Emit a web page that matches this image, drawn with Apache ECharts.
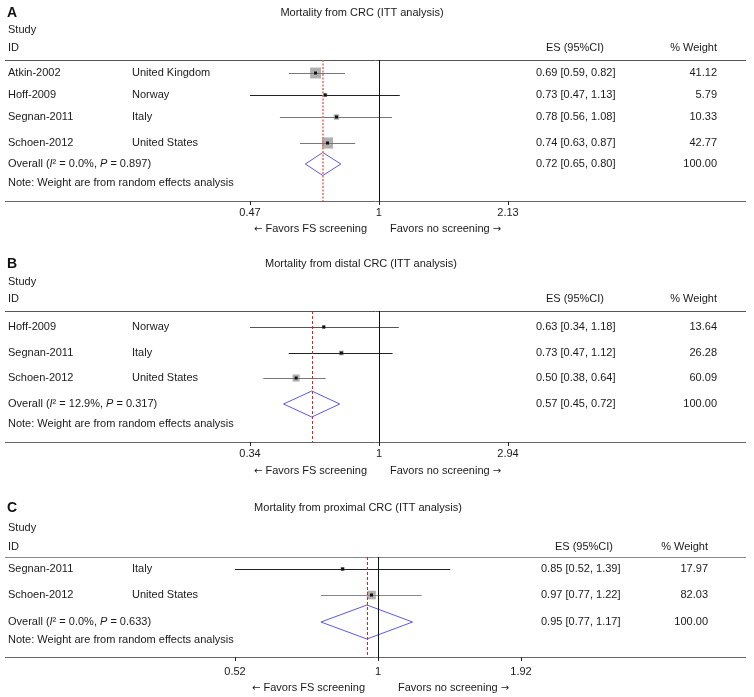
<!DOCTYPE html>
<html>
<head>
<meta charset="utf-8">
<script src="https://cdn.jsdelivr.net/npm/echarts@6/dist/echarts.min.js"></script>
<style>html,body{margin:0;padding:0;background:#fff}#c{width:754px;height:697px}</style>
</head>
<body>
<div id="c"></div>
<script>
// ---------- DATA ----------
// Panel A: Mortality from CRC
const titleA = 'Mortality from CRC (ITT analysis)';
const studiesA = ['Atkin-2002', 'Hoff-2009', 'Segnan-2011', 'Schoen-2012'];
const countriesA = ['United Kingdom', 'Norway', 'Italy', 'United States'];
const esA = [0.69, 0.73, 0.78, 0.74];
const loA = [0.59, 0.47, 0.56, 0.63];
const hiA = [0.82, 1.13, 1.08, 0.87];
const weightA = [41.12, 5.79, 10.33, 42.77];
const pooledA = [0.72, 0.65, 0.80];
const hetA = ['0.0%', '0.897'];
const ticksA = [0.47, 1, 2.13];
const tickLabelsA = ['0.47', '1', '2.13'];

// Panel B: Mortality from distal CRC
const titleB = 'Mortality from distal CRC (ITT analysis)';
const studiesB = ['Hoff-2009', 'Segnan-2011', 'Schoen-2012'];
const countriesB = ['Norway', 'Italy', 'United States'];
const esB = [0.63, 0.73, 0.50];
const loB = [0.34, 0.47, 0.38];
const hiB = [1.18, 1.12, 0.64];
const weightB = [13.64, 26.28, 60.09];
const pooledB = [0.57, 0.45, 0.72];
const hetB = ['12.9%', '0.317'];
const ticksB = [0.34, 1, 2.94];
const tickLabelsB = ['0.34', '1', '2.94'];

// Panel C: Mortality from proximal CRC
const titleC = 'Mortality from proximal CRC (ITT analysis)';
const studiesC = ['Segnan-2011', 'Schoen-2012'];
const countriesC = ['Italy', 'United States'];
const esC = [0.85, 0.97];
const loC = [0.52, 0.77];
const hiC = [1.39, 1.22];
const weightC = [17.97, 82.03];
const pooledC = [0.95, 0.77, 1.17];
const hetC = ['0.0%', '0.633'];
const ticksC = [0.52, 1, 1.92];
const tickLabelsC = ['0.52', '1', '1.92'];

// ---------- LAYOUT / STYLE ----------
const layouts = [
  {tag:'A', top:60, bottom:201, left:250, right:508, head:13, study:30, id:48, rows:[73,95,117,143], overall:164, note:183, favors:229, favL:367, favR:390, labelMargin:6, esX:536, wX:717, esHeadX:575, titleX:362, diamondH:11.5, boxK:1.7, ciColors:['#777','#222','#777','#777'], refColor:'#e46a6a', refWidth:1.5, refDash:[2,1.5], ruleTop:'#555'},
  {tag:'B', top:311, bottom:442, left:250, right:508, head:264, study:282, id:299, rows:[327,353,378], overall:404, note:424, favors:471, favL:367, favR:390, labelMargin:6, esX:536, wX:717, esHeadX:575, titleX:361, diamondH:13, boxK:0.92, ciColors:['#555','#222','#777'], refColor:'#dd2222', refWidth:1, refDash:[3,2], ruleTop:'#555'},
  {tag:'C', top:557, bottom:657, left:235, right:521, head:508, study:528, id:547, rows:[569,595], overall:622, note:640, favors:688, favL:365, favR:398, labelMargin:9, esX:541, wX:708, esHeadX:584, titleX:358, diamondH:17, boxK:0.95, ciColors:['#222','#888'], refColor:'#dd2222', refWidth:1, refDash:[3,2], ruleTop:'#888'}
];

const panels = [
  {title:titleA, studies:studiesA, countries:countriesA, es:esA, lo:loA, hi:hiA, w:weightA, pooled:pooledA, het:hetA, ticks:ticksA, tickLabels:tickLabelsA},
  {title:titleB, studies:studiesB, countries:countriesB, es:esB, lo:loB, hi:hiB, w:weightB, pooled:pooledB, het:hetB, ticks:ticksB, tickLabels:tickLabelsB},
  {title:titleC, studies:studiesC, countries:countriesC, es:esC, lo:loC, hi:hiC, w:weightC, pooled:pooledC, het:hetC, ticks:ticksC, tickLabels:tickLabelsC}
];

const FONT = '"Liberation Sans", Arial, sans-serif';
const FS = 11;
const INK = '#1a1a1a';
const fmt = v => v.toFixed(2);

const grids = [], xAxes = [], yAxes = [], series = [], graphics = [];

function txt(x, y, text, align, extra) {
  graphics.push({
    type: 'text', x: x, y: y, silent: true,
    style: Object.assign({text: text, fill: INK, font: FS + 'px ' + FONT, align: align || 'left', verticalAlign: 'middle'}, extra || {})
  });
}
function rule(x1, x2, y, color) {
  graphics.push({type:'line', silent:true, shape:{x1:x1, y1:y + 0.5, x2:x2, y2:y + 0.5}, style:{stroke:color, lineWidth:1}});
}
const arrowRich = {ar: {fontFamily: '"DejaVu Sans", sans-serif', fontSize: 10, fill: INK}};

panels.forEach((p, i) => {
  const L = layouts[i];
  const H = L.bottom - L.top;
  grids.push({left: L.left, top: L.top, width: L.right - L.left, height: H, containLabel: false});
  const tlab = p.tickLabels;
  const tv = p.ticks;
  xAxes.push({
    type: 'log', gridIndex: i, min: tv[0], max: tv[tv.length - 1], logBase: 10, position: 'bottom',
    axisLine: {show: false, onZero: false},
    splitLine: {show: false},
    axisTick: {show: true, customValues: tv, length: 4, lineStyle: {color: '#222', width: 1}},
    axisLabel: {show: true, customValues: tv, margin: L.labelMargin, color: INK, fontSize: FS, fontFamily: FONT,
      formatter: function (v) {
        let best = 0, bd = Infinity;
        tv.forEach((t, k) => { const d = Math.abs(Math.log(t) - Math.log(v)); if (d < bd) { bd = d; best = k; } });
        return tlab[best];
      }}
  });
  yAxes.push({type: 'value', gridIndex: i, min: 0, max: H, inverse: true, show: false});

  // study rows
  const rowData = p.studies.map((s, k) => [p.es[k], p.lo[k], p.hi[k], L.rows[k] - L.top, p.w[k], k]);
  series.push({
    type: 'custom', xAxisIndex: i, yAxisIndex: i, silent: true, z: 3,
    data: rowData,
    renderItem: function (params, api) {
      const es = api.value(0), lo = api.value(1), hi = api.value(2), y = api.value(3), w = api.value(4), k = api.value(5);
      const pc = api.coord([es, y]);
      const pl = api.coord([lo, y]);
      const ph = api.coord([hi, y]);
      const yy = Math.round(pc[1]) + 0.5;
      const s = L.boxK * Math.sqrt(w);
      return {type: 'group', children: [
        {type: 'rect', shape: {x: pc[0] - s / 2, y: pc[1] - s / 2, width: s, height: s}, style: {fill: '#b0b0b0'}},
        {type: 'line', shape: {x1: pl[0], y1: yy, x2: ph[0], y2: yy}, style: {stroke: L.ciColors[k], lineWidth: 1}},
        {type: 'rect', shape: {x: pc[0] - 1.5, y: pc[1] - 1.5, width: 3, height: 3}, style: {fill: '#111'}}
      ]};
    }
  });

  // pooled diamond + reference lines
  series.push({
    type: 'custom', xAxisIndex: i, yAxisIndex: i, silent: true, z: 4,
    data: [[p.pooled[0], p.pooled[1], p.pooled[2], L.overall - L.top]],
    renderItem: function (params, api) {
      const es = api.value(0), lo = api.value(1), hi = api.value(2), y = api.value(3);
      const c = api.coord([es, y]), a = api.coord([lo, y]), b = api.coord([hi, y]);
      const h = L.diamondH;
      return {type: 'polygon', shape: {points: [[a[0], c[1]], [c[0], c[1] - h], [b[0], c[1]], [c[0], c[1] + h]]},
        style: {fill: 'none', stroke: '#5a5ae0', lineWidth: 1}};
    },
    markLine: {
      silent: true, symbol: ['none', 'none'], label: {show: false}, animation: false,
      data: [
        {xAxis: 1, lineStyle: {color: '#111', width: 1, type: 'solid'}},
        {xAxis: p.pooled[0], lineStyle: {color: L.refColor, width: L.refWidth, type: L.refDash}}
      ]
    }
  });

  // text + rules
  txt(7, L.head, L.tag, 'left', {font: 'bold 14px ' + FONT, fill: '#111'});
  txt(L.titleX, L.head, p.title, 'center');
  txt(8, L.study, 'Study');
  txt(8, L.id, 'ID');
  txt(L.esHeadX, L.id, 'ES (95%CI)', 'center');
  txt(L.wX, L.id, '% Weight', 'right');
  rule(5, 746, L.top, L.ruleTop);
  rule(5, 746, L.bottom, '#666');
  p.studies.forEach((s, k) => {
    txt(8, L.rows[k], s);
    txt(132, L.rows[k], p.countries[k]);
    txt(L.esX, L.rows[k], fmt(p.es[k]) + ' [' + fmt(p.lo[k]) + ', ' + fmt(p.hi[k]) + ']');
    txt(L.wX, L.rows[k], fmt(p.w[k]), 'right');
  });
  txt(8, L.overall, 'Overall ({it|I}² = ' + p.het[0] + ', {it|P} = ' + p.het[1] + ')', 'left',
    {rich: {it: {fontStyle: 'italic', fontSize: FS, fontFamily: FONT, fill: INK}}});
  txt(L.esX, L.overall, fmt(p.pooled[0]) + ' [' + fmt(p.pooled[1]) + ', ' + fmt(p.pooled[2]) + ']');
  txt(L.wX, L.overall, '100.00', 'right');
  txt(8, L.note, 'Note: Weight are from random effects analysis');
  txt(L.favL, L.favors, '{ar|\u2190} Favors FS screening', 'right', {rich: arrowRich});
  txt(L.favR, L.favors, 'Favors no screening {ar|\u2192}', 'left', {rich: arrowRich});
});

const chart = echarts.init(document.getElementById('c'), null, {renderer: 'canvas'});
chart.setOption({
  animation: false,
  backgroundColor: '#fff',
  grid: grids, xAxis: xAxes, yAxis: yAxes, series: series,
  graphic: graphics
});
</script>
</body>
</html>
